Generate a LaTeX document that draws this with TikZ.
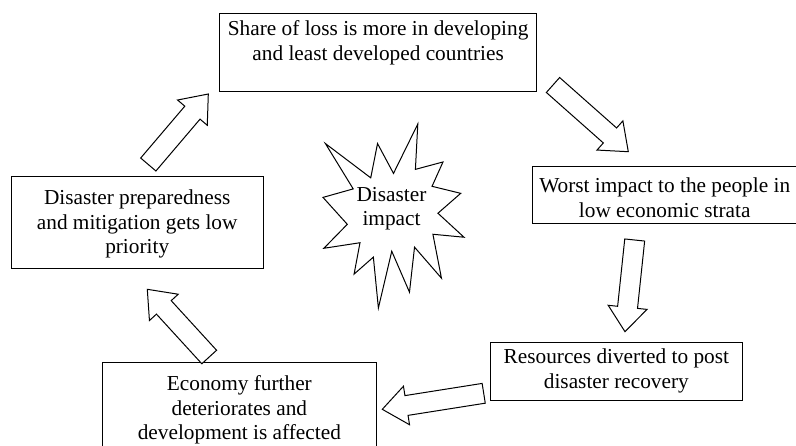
\documentclass[tikz,border=0pt]{standalone}
\usepackage{fontspec}
\setmainfont{Liberation Serif}
\usetikzlibrary{calc}

% Boxed text: #1 width, #2 height, #3 height of the first line above its baseline
\newcommand\boxtext[4]{\parbox[c][#2pt][t]{#1pt}{\centering\rule{0pt}{#3pt}\ignorespaces#4\par}}

% Block arrow dimensions
\newcommand\shafthw{10pt}
\newcommand\barbhw{19.5pt}
\newcommand\headlen{24.5pt}

\tikzset{
  txt/.style={inner sep=0pt, font=\fontsize{21.3}{24.5}\selectfont},
  box/.style={txt, draw, line width=1pt, anchor=north west},
  blockarrow/.style={draw, line width=1pt, fill=white, line join=miter,
    to path={
      ($(\tikztostart)!\shafthw!90:(\tikztotarget)$)
      -- ($(\tikztotarget)!\headlen!(\tikztostart)!\shafthw!-90:(\tikztostart)$)
      -- ($(\tikztotarget)!\headlen!(\tikztostart)!\barbhw!-90:(\tikztostart)$)
      -- (\tikztotarget)
      -- ($(\tikztotarget)!\headlen!(\tikztostart)!\barbhw!90:(\tikztostart)$)
      -- ($(\tikztotarget)!\headlen!(\tikztostart)!\shafthw!90:(\tikztostart)$)
      -- ($(\tikztostart)!\shafthw!-90:(\tikztotarget)$)
      -- cycle}},
  burst/.style={draw, line width=1pt, line join=miter}
}

\begin{document}
\begin{tikzpicture}[x=1pt, y=-1pt]
\path[use as bounding box, fill=white] (0,0) rectangle (796,445);

% The five stages of the cycle
\node[box] (share) at (219.3,13.3)
  {\boxtext{316.7}{77.4}{22}{Share of loss is more in developing\\and least developed countries}};
\node[box] (worst) at (531.7,165.7)
  {\boxtext{265}{57}{26.5}{Worst impact to the people in\\low economic strata}};
\node[box] (resources) at (490,341.7)
  {\boxtext{251.7}{58.3}{21.6}{Resources diverted to post\\disaster recovery}};
\node[box] (economy) at (101.7,361.7)
  {\boxtext{274.3}{95}{28.5}{Economy further\\deteriorates and\\development is affected}};
\node[box] (prepared) at (10.7,176)
  {\boxtext{252}{92.3}{28}{Disaster preparedness\\and mitigation gets low\\priority}};

% Explosion outline in the middle
\begin{scope}[shift={(323,124)}, x=0.6528pt, y=-0.8519pt]
\draw[burst] (108,58) -- (145.22,0) -- (141.55,53.25) -- (183.80,44.57)
  -- (167.02,73.15) -- (210.97,81.37) -- (176.07,104.75) -- (216,132.90)
  -- (168.37,129.42) -- (181.45,180.95) -- (140.20,144.57) -- (132.47,197.37)
  -- (105.32,149.35) -- (84.85,216) -- (77.15,156.27) -- (47.62,176.17)
  -- (56.67,139.37) -- (1.35,145.87) -- (37.22,117.75) -- (0,86.15)
  -- (46.27,76.17) -- (3.70,22.95) -- (73.12,63.20) -- (83.52,22.95) -- cycle;
\end{scope}
\node[txt, anchor=north] (impact) at (391.5,180)
  {\boxtext{100}{50}{21}{Disaster\\impact}};

% Arrow end points
\coordinate (a1s) at (553,85);    \coordinate (a1e) at (628.3,151.7);
\coordinate (a2s) at (634.7,240); \coordinate (a2e) at (625,331.7);
\coordinate (a3s) at (483.7,393.3); \coordinate (a3e) at (382.3,409.3);
\coordinate (a4s) at (209.2,357); \coordinate (a4e) at (147.3,289.3);
\coordinate (a5s) at (148.3,164.5); \coordinate (a5e) at (208.3,94);

\draw[blockarrow] (a1s) to (a1e);
\draw[blockarrow] (a2s) to (a2e);
\draw[blockarrow] (a3s) to (a3e);
\draw[blockarrow] (a4s) to (a4e);
\draw[blockarrow] (a5s) to (a5e);
\end{tikzpicture}
\end{document}
